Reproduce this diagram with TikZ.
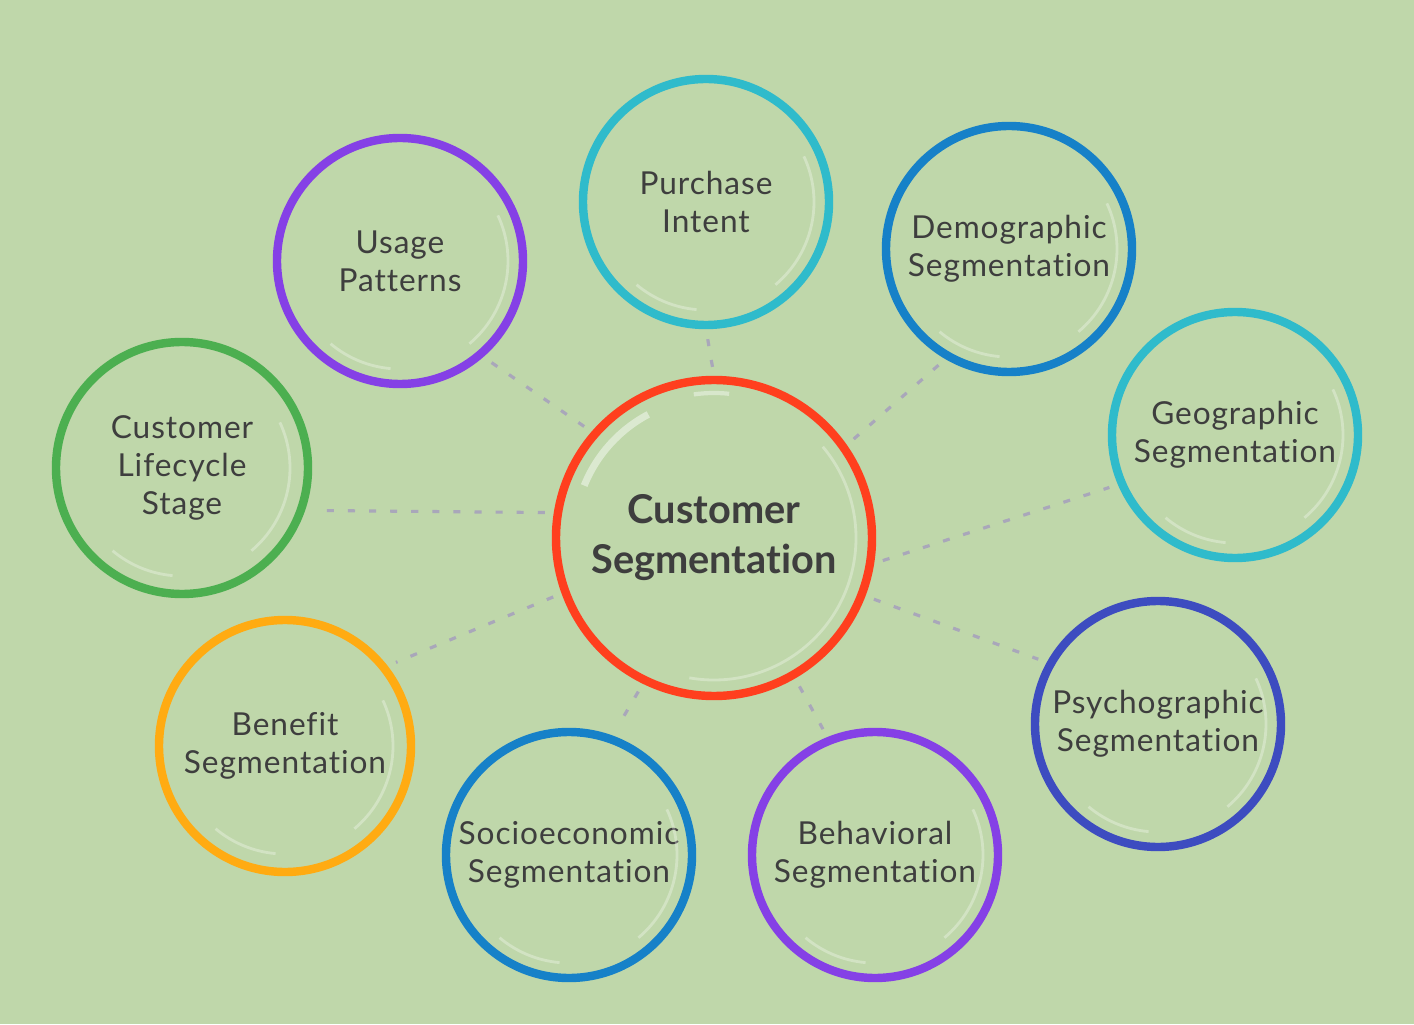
\documentclass[tikz,border=0pt]{standalone}
\usepackage{fontspec}
\setmainfont[Ligatures={NoCommon}]{Lato}
\newfontfamily\lblfont[LetterSpace=3, Ligatures={NoCommon}]{Lato}
\usepackage{tikz}
\usetikzlibrary{
    calc,
    positioning,
    shapes.geometric
}
\definecolor{bgGreen}{HTML}{BFD7AA}
\definecolor{txtGrey}{HTML}{3E3E3E}
\definecolor{dashGrey}{HTML}{A9A7BA}
\definecolor{cRed}{HTML}{FF3F1E}
\definecolor{cCyan}{HTML}{2FBBCB}
\definecolor{cPurple}{HTML}{8540E6}
\definecolor{cBlue}{HTML}{1681C8}
\definecolor{cGreen}{HTML}{4CAF50}
\definecolor{cIndigo}{HTML}{3D4CC0}
\definecolor{cOrange}{HTML}{FFAB12}
\tikzset{
    bubble/.style={circle, draw=#1, line width=2.4pt, minimum size=2.46cm,
        inner sep=0pt, align=center, text=txtGrey,
        font=\lblfont\fontsize{9}{10.8}\selectfont},
    hubbubble/.style={bubble=cRed, minimum size=3.16cm,
        font=\bfseries\fontsize{11.3}{14.2}\selectfont},
    link/.style={draw=dashGrey, line width=0.9pt, dash pattern=on 2pt off 4pt,
        shorten >=0.09cm, shorten <=0.09cm},
    gloss/.style={draw=white, opacity=0.3, line width=0.8pt}
}
% soft glass highlights inside a bubble
\newcommand{\shine}[2]{%
    \draw[gloss] ($(#1.center)+(25:#2)$) arc[start angle=25, end angle=-50, radius=#2];
    \draw[gloss] ($(#1.center)+(-95:#2)$) arc[start angle=-95, end angle=-130, radius=#2];
}

\begin{document}
\begin{tikzpicture}
        \fill[bgGreen] (0,0) rectangle (14.14,10.24);
        \useasboundingbox (0,0) rectangle (14.14,10.24);

        \node[hubbubble] (hub) at (7.14,4.86) {Customer\\Segmentation};

        \node[bubble=cCyan]   (pi) at (7.06,8.22)  {Purchase\\Intent};
        \node[bubble=cPurple] (up) at (4.00,7.63)  {Usage\\Patterns};
        \node[bubble=cBlue]   (dm) at (10.09,7.75) {Demographic\\Segmentation};
        \node[bubble=cCyan]   (gg) at (12.35,5.89) {Geographic\\Segmentation};
        \node[bubble=cGreen, minimum size=2.52cm]  (lc) at (1.82,5.56) {Customer\\Lifecycle\\Stage};
        \node[bubble=cIndigo] (ps) at (11.58,3.00) {Psychographic\\Segmentation};
        \node[bubble=cOrange, minimum size=2.52cm] (bn) at (2.85,2.78) {Benefit\\Segmentation};
        \node[bubble=cBlue]   (se) at (5.69,1.69)  {Socioeconomic\\Segmentation};
        \node[bubble=cPurple] (bh) at (8.75,1.69)  {Behavioral\\Segmentation};

        % dashed spokes
        \draw[link] (hub.90)   -- (pi.-90);
        \draw[link] (hub.139)  -- (up.-49);
        \draw[link] (hub.35)   -- (dm.-120);
        \draw[link] (hub.-9)   -- (gg.-157);
        \draw[link] (hub.171)  -- (lc.-19);
        \draw[link] (hub.-21)  -- (ps.151);
        \draw[link] (hub.-160) -- (bn.38);
        \draw[link] (hub.-116) -- (se.70);
        \draw[link] (hub.-60)  -- (bh.112);

        % highlights
        \foreach \n in {pi,up,dm,gg,lc,ps,bn,se,bh}{\shine{\n}{1.08cm}}
        \draw[gloss, opacity=0.45, line width=2pt] ($(hub.center)+(118:1.4cm)$) arc[start angle=118, end angle=158, radius=1.4cm];
        \draw[gloss, opacity=0.4, line width=1.2pt] ($(hub.center)+(98:1.45cm)$) arc[start angle=98, end angle=84, radius=1.45cm];
        \draw[gloss] ($(hub.center)+(40:1.42cm)$) arc[start angle=40, end angle=-100, radius=1.42cm];
    \end{tikzpicture}
\end{document}
